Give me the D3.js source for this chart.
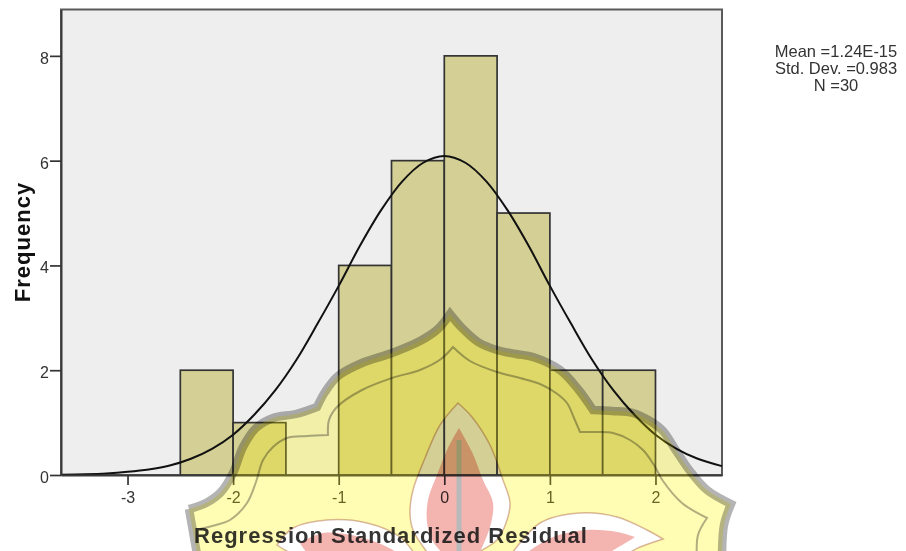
<!DOCTYPE html>
<html><head><meta charset="utf-8">
<script src="https://cdn.jsdelivr.net/npm/d3@7/dist/d3.min.js"></script>
<style>
html,body{margin:0;padding:0;background:#fff;overflow:hidden}
svg{display:block;font-family:"Liberation Sans",Arial,sans-serif;filter:blur(0.45px)}
</style></head><body>
<svg id="c" width="906" height="551"></svg>
<script>
// Histogram data
const binStarts = [-2.5,-2,-1.5,-1,-0.5,0,0.5,1,1.5];
const binWidth = 0.5;
const counts = [2,1,0,4,6,8,5,2,2];
// Fitted curve
const curveX = [-3.63,-3.4,-3.2,-3,-2.8,-2.6,-2.4,-2.2,-2,-1.8,-1.6,-1.4,-1.2,-1,-0.8,-0.6,-0.4,-0.2,0,0.2,0.4,0.6,0.8,1,1.2,1.4,1.6,1.8,2,2.2,2.4,2.63];
const curveY = [0.007,0.015,0.03,0.06,0.105,0.18,0.31,0.50,0.77,1.15,1.62,2.20,2.89,3.61,4.37,5.05,5.60,5.96,6.09,5.96,5.60,5.05,4.37,3.61,2.89,2.20,1.62,1.15,0.77,0.50,0.31,0.17];
const xTicks = [-3,-2,-1,0,1,2];
const yTicks = [0,2,4,6,8];
const xTitle = "Regression Standardized Residual";
const yTitle = "Frequency";
const stats = ["Mean =1.24E-15","Std. Dev. =0.983","N =30"];

// Background watermark: each outline is a list of smooth runs that meet at sharp corners
const wmOuter = [
 [[189,509],[206,503],[221,492],[233,473],[243,447],[256,428],[273,418],[296,414],[317,407]],
 [[317,407],[325,392],[338,376],[362,363],[392,353],[420,341],[438,329],[450,314]],
 [[450,314],[462,328],[478,342],[497,350],[516,354],[533,357],[560,370],[578,389],[593,410]],
 [[593,410],[612,411],[633,413],[650,421],[663,431],[675,449],[690,471],[707,490],[731,504]],
 [[731,504],[724,525],[722,560]],
 [[722,560],[198,560]],
 [[198,560],[189,509]]];
const wmInner = [
 [[200,529],[216,525],[230,520],[247,503],[256,482],[263,460],[273,447],[287,438],[307,436],[328,435]],
 [[328,435],[329,420],[337,407],[362,390],[392,378],[420,370],[441,359],[453,347]],
 [[453,347],[470,361],[497,372],[520,378],[540,384],[556,393],[567,403],[574,418],[580,432]],
 [[580,432],[597,432],[613,433],[630,440],[643,450],[654,465],[663,481],[682,503],[707,518]],
 [[707,518],[698,535],[697,560]]];
const wmCenter = [
 [[458,403],[440,425],[425,458],[413,490],[410,513],[413,530],[430,556]],
 [[430,556],[470,556]],
 [[470,556],[497,540],[506,523],[510,503],[503,480],[490,445],[472,417],[458,403]]];
const wmCenterRed = [
 [[459,428],[448,448],[437,475],[428,500],[427,522],[432,540],[445,556]],
 [[445,556],[478,556]],
 [[478,556],[490,527],[493,503],[483,480],[472,452],[459,428]]];
const wmLeft = [
 [[277,545],[293,528],[327,520],[367,523],[400,537],[416,556]],
 [[416,556],[300,556],[277,545]]];
const wmLeftRed = [
 [[300,543],[323,533],[360,537],[393,550],[400,556]],
 [[400,556],[312,556],[300,543]]];
const wmRight = [
 [[510,556],[540,523],[580,513],[617,517],[647,530],[663,539]],
 [[663,539],[640,547],[620,556],[510,556]]];
const wmRightRed = [
 [[522,556],[553,537],[587,530],[617,532],[635,537]],
 [[635,537],[617,548],[600,556],[522,556]]];

const L=61,R=722,T=9.5,B=475;
const x=d3.scaleLinear().domain([-3.63,2.63]).range([L,R]);
const y=d3.scaleLinear().domain([0,8.885]).range([B,T]);
const svg=d3.select("#c");

svg.append("rect").attr("x",L).attr("y",T).attr("width",R-L).attr("height",B-T)
  .attr("fill","#eeeeef").attr("stroke","#5a5a5a").attr("stroke-width",2);

svg.append("g").selectAll("rect").data(binStarts).join("rect")
  .attr("x",d=>x(d)).attr("width",x(binWidth)-x(0))
  .attr("y",(d,i)=>y(counts[i])).attr("height",(d,i)=>y(0)-y(counts[i]))
  .attr("fill","#d3cf95").attr("stroke","#333").attr("stroke-width",1.7)
  .attr("display",(d,i)=>counts[i]?null:"none");

svg.append("path").datum(curveX)
  .attr("d",d3.line().x(d=>x(d)).y((d,i)=>y(curveY[i])).curve(d3.curveCatmullRom.alpha(.5)))
  .attr("fill","none").attr("stroke","#111").attr("stroke-width",2);

const ax=svg.append("g").attr("transform",`translate(0,${B})`)
  .call(d3.axisBottom(x).tickValues(xTicks).tickFormat(d=>String(d)).tickSize(10).tickSizeOuter(0));
const ay=svg.append("g").attr("transform",`translate(${L},0)`)
  .call(d3.axisLeft(y).tickValues(yTicks).tickFormat(d=>String(d)).tickSize(11).tickSizeOuter(0));
[ax,ay].forEach(a=>{
  a.selectAll(".domain").attr("stroke","#3a3a3a").attr("stroke-width",2);
  a.selectAll("line").attr("stroke","#333").attr("stroke-width",1.7);
  a.selectAll("text").attr("font-family","Liberation Sans").attr("font-size",16).attr("fill","#333");
});
ax.selectAll("text").attr("dy",null).attr("y",28);
ay.selectAll("text").attr("dy",null).attr("x",-12).attr("y",7.5);

svg.append("text").attr("transform","translate(30,242) rotate(-90)").attr("text-anchor","middle")
  .attr("font-size",22).attr("font-weight","bold").attr("letter-spacing",1).attr("fill","#111").text(yTitle);

svg.append("g").selectAll("text").data(stats).join("text")
  .attr("x",836).attr("y",(d,i)=>57+i*17).attr("text-anchor","middle")
  .attr("font-size",16.5).attr("fill","#333").text(d=>d);

// Watermark over everything
const run=d3.line().curve(d3.curveCatmullRom.alpha(.5));
const pathOf=(runs,close)=>runs.map((r,i)=>{const s=run(r);return i?s.replace(/^M/,"L"):s;}).join("")+(close?"Z":"");
const body=pathOf(wmOuter,true)+pathOf(wmCenter,true)+pathOf(wmLeft,true)+pathOf(wmRight,true);
svg.append("path").attr("d",body).attr("fill-rule","evenodd").attr("fill","#ffffef").style("mix-blend-mode","multiply");
svg.append("path").attr("d",body).attr("fill-rule","evenodd").attr("fill","#fff400").attr("fill-opacity",.25);
const wm=svg.append("g").style("mix-blend-mode","multiply");
wm.append("path").attr("d",pathOf(wmOuter.slice(0,5),false)).attr("fill","none").attr("stroke","#b4b4b4").attr("stroke-width",8.5).attr("stroke-linejoin","miter");
wm.append("path").attr("d",pathOf([wmOuter[6]],false)).attr("fill","none").attr("stroke","#b4b4b4").attr("stroke-width",8.5);
wm.append("path").attr("d",pathOf(wmInner,false)).attr("fill","none").attr("stroke","#b0b0b4").attr("stroke-width",2);
[[wmCenter,wmCenterRed],[wmLeft,wmLeftRed],[wmRight,wmRightRed]].forEach(([o,r])=>{
  wm.append("path").attr("d",pathOf(o,true)).attr("fill","none").attr("stroke","#d9b8ac").attr("stroke-width",1.5);
  wm.append("path").attr("d",pathOf(r,true)).attr("fill","#f4b4b0");
});
wm.append("rect").attr("x",456.5).attr("y",440).attr("width",5).attr("height",115).attr("fill","#b9b9b9");

// Axis title sits over the watermark, slightly tinted by it
svg.append("text").attr("x",391).attr("y",543).attr("text-anchor","middle")
  .attr("font-size",22).attr("font-weight","bold").attr("letter-spacing",1).attr("fill","#111").attr("fill-opacity",.85).text(xTitle);
</script>
</body></html>
